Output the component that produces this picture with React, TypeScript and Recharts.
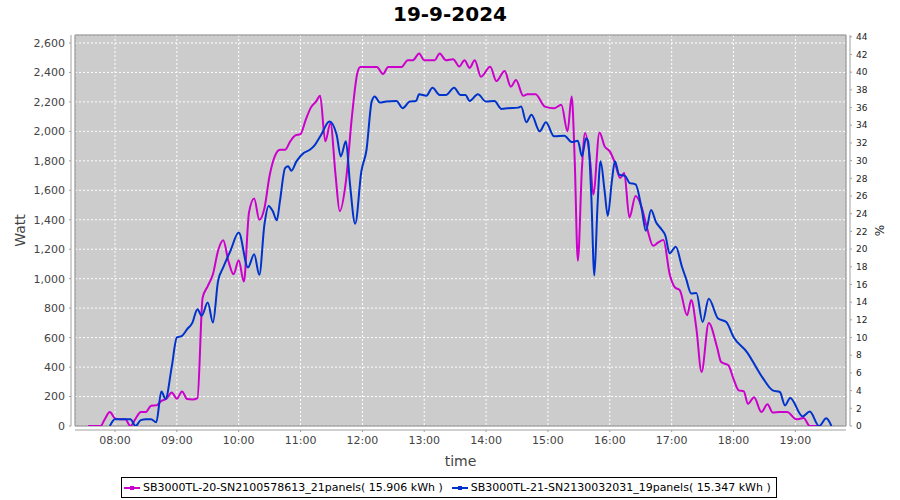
import React from "react";
import {
  LineChart,
  Line,
  XAxis,
  YAxis,
  CartesianGrid,
  ReferenceArea,
} from "recharts";

const FONT = "'DejaVu Sans', sans-serif";

const seriesNames = [
  "SB3000TL-20-SN2100578613_21panels( 15.906 kWh )",
  "SB3000TL-21-SN2130032031_19panels( 15.347 kWh )",
];
const seriesColors = ["#cc00cc", "#0033cc"];

// inverter 20, 21 panels (magenta)
const magentaTimes = [
  "07:34", "07:40", "07:46", "07:50", "07:55", "08:00", "08:05", "08:10", "08:15", "08:20",
  "08:25", "08:30", "08:35", "08:40", "08:45", "08:50", "08:55", "09:00", "09:05", "09:10",
  "09:15", "09:20", "09:25", "09:30", "09:35", "09:40", "09:45", "09:50", "09:55", "10:00",
  "10:05", "10:10", "10:15", "10:20", "10:25", "10:30", "10:35", "10:40", "10:45", "10:50",
  "10:55", "11:00", "11:05", "11:10", "11:15", "11:19", "11:24", "11:29", "11:34", "11:38",
  "11:44", "11:50", "11:55", "11:58", "12:05", "12:14", "12:20", "12:25", "12:38", "12:44",
  "12:49", "12:55", "13:00", "13:10", "13:15", "13:21", "13:28", "13:34", "13:39", "13:44",
  "13:49", "13:55", "14:04", "14:10", "14:18", "14:24", "14:29", "14:36", "14:40", "14:48",
  "14:57", "15:06", "15:13", "15:19", "15:23", "15:26", "15:29", "15:33", "15:36", "15:41",
  "15:44", "15:50", "15:55", "16:00", "16:05", "16:10", "16:14", "16:19", "16:25", "16:31",
  "16:36", "16:42", "16:47", "16:52", "16:58", "17:03", "17:08", "17:15", "17:19", "17:24",
  "17:29", "17:36", "17:44", "17:48", "17:55", "18:00", "18:05", "18:10", "18:14", "18:20",
  "18:27", "18:33", "18:38", "18:45", "18:52", "19:01", "19:08", "19:14", "19:25",
];
const magentaWatts = [
  0, 0, 0, 45, 95, 52, 45, 45, 0, 50,
  95, 95, 138, 140, 170, 185, 228, 185, 235, 183,
  180, 190, 870, 950, 1030, 1190, 1260, 1120, 1030, 1125,
  980, 1450, 1545, 1400, 1480, 1700, 1830, 1875, 1875, 1932,
  1972, 1981, 2078, 2161, 2202, 2242, 1932, 2055, 1700, 1459,
  1661, 2112, 2393, 2437, 2437, 2437, 2389, 2437, 2437, 2483,
  2483, 2528, 2483, 2483, 2528, 2483, 2490, 2440, 2483, 2431,
  2483, 2371, 2438, 2341, 2409, 2303, 2348, 2242, 2251, 2251,
  2168, 2157, 2180, 2000, 2236, 1797, 1122, 1752, 1988, 1797,
  1572, 1993, 1898, 1864, 1786, 1684, 1718, 1416, 1561, 1482,
  1347, 1223, 1246, 1263, 1034, 943, 921, 751, 855, 661,
  367, 699, 536, 434, 412, 320, 242, 235, 150, 195,
  95, 147, 91, 95, 95, 45, 54, 0, 0,
];

// inverter 21, 19 panels (blue)
const blueTimes = [
  "07:55", "08:00", "08:05", "08:10", "08:15", "08:20", "08:25", "08:30", "08:35", "08:40",
  "08:45", "08:49", "08:55", "09:00", "09:05", "09:10", "09:15", "09:20", "09:24", "09:30",
  "09:35", "09:40", "09:45", "09:52", "10:00", "10:09", "10:15", "10:20", "10:25", "10:29",
  "10:33", "10:37", "10:40", "10:45", "10:48", "10:51", "10:56", "11:03", "11:09", "11:14",
  "11:20", "11:28", "11:35", "11:39", "11:44", "11:48", "11:53", "11:59", "12:04", "12:09",
  "12:12", "12:17", "12:23", "12:33", "12:39", "12:46", "12:52", "12:55", "13:02", "13:08",
  "13:15", "13:21", "13:29", "13:35", "13:40", "13:44", "13:52", "14:00", "14:08", "14:15",
  "14:21", "14:31", "14:34", "14:39", "14:44", "14:52", "14:58", "15:06", "15:16", "15:23",
  "15:29", "15:33", "15:37", "15:39", "15:42", "15:45", "15:48", "15:51", "15:55", "15:58",
  "16:02", "16:05", "16:09", "16:15", "16:19", "16:25", "16:31", "16:35", "16:40", "16:45",
  "16:50", "16:54", "16:58", "17:04", "17:10", "17:14", "17:19", "17:24", "17:30", "17:36",
  "17:45", "17:53", "18:00", "18:13", "18:28", "18:38", "18:45", "18:50", "18:55", "19:07",
  "19:14", "19:23", "19:30", "19:35",
];
const blueWatts = [
  0, 45, 45, 45, 45, 0, 40, 45, 45, 25,
  235, 183, 400, 601, 612, 657, 700, 793, 748, 838,
  703, 985, 1076, 1189, 1313, 1076, 1166, 1026, 1370, 1494,
  1459, 1396, 1526, 1751, 1763, 1733, 1796, 1853, 1875, 1909,
  1977, 2067, 1977, 1830, 1932, 1639, 1373, 1729, 1875, 2202,
  2236, 2195, 2202, 2206, 2157, 2202, 2206, 2251, 2242, 2296,
  2247, 2247, 2296, 2247, 2247, 2206, 2251, 2202, 2206, 2152,
  2157, 2161, 2168, 2062, 2112, 2000, 2062, 1966, 1970, 1927,
  1936, 1831, 1954, 1932, 1572, 1021, 1482, 1797, 1594, 1426,
  1662, 1797, 1707, 1696, 1651, 1640, 1471, 1325, 1466, 1381,
  1336, 1290, 1172, 1217, 1081, 1000, 900, 903, 706, 864,
  729, 706, 604, 502, 330, 242, 231, 140, 190, 65,
  98, 0, 52, 0,
];

const hourTicks = [8, 9, 10, 11, 12, 13, 14, 15, 16, 17, 18, 19];
const wattTicks = [0, 200, 400, 600, 800, 1000, 1200, 1400, 1600, 1800, 2000, 2200, 2400, 2600];
const pctTicks = [0, 2, 4, 6, 8, 10, 12, 14, 16, 18, 20, 22, 24, 26, 28, 30, 32, 34, 36, 38, 40, 42, 44];

const X_DOMAIN: [number, number] = [7.3533, 19.819];
const W_DOMAIN: [number, number] = [0, 2654];
const PCT_DOMAIN: [number, number] = [0, 44.2];

function toHours(s: string): number {
  const [h, m] = s.split(":").map(Number);
  return h + m / 60;
}

function build(times: string[], watts: number[]) {
  return times.map((t, i) => ({ t: toHours(t), w: watts[i] }));
}

const magentaData = build(magentaTimes, magentaWatts);
const blueData = build(blueTimes, blueWatts);

const AXIS = "#a0a0a0";

function LegendIcon({ color }: { color: string }) {
  return (
    <svg width={16} height={8} style={{ marginRight: 3 }}>
      <line x1={0} y1={4} x2={16} y2={4} stroke={color} strokeWidth={2} />
      <rect x={6} y={2} width={4} height={4} fill={color} />
    </svg>
  );
}

export default function App() {
  return (
    <div
      style={{
        position: "absolute",
        left: 0,
        top: 0,
        width: 900,
        height: 500,
        background: "#fff",
        fontFamily: FONT,
      }}
    >
      <div
        style={{
          position: "absolute",
          top: 2,
          left: 0,
          width: 900,
          textAlign: "center",
          fontSize: 20,
          fontWeight: "bold",
          color: "#000",
        }}
      >
        19-9-2024
      </div>
      <LineChart
        width={900}
        height={500}
        margin={{ top: 35, right: 0, bottom: 34, left: 0 }}
      >
        <CartesianGrid
          yAxisId="left"
          stroke="#ffffff"
          strokeDasharray="2 2"
          fill="#cccccc"
          fillOpacity={1}
        />
        <XAxis
          dataKey="t"
          type="number"
          domain={X_DOMAIN}
          ticks={hourTicks}
          allowDataOverflow
          tickFormatter={(h: number) => `${String(h).padStart(2, "0")}:00`}
          height={40}
          tickSize={2}
          tickMargin={8}
          axisLine={{ stroke: AXIS, transform: "translate(0 4)" }}
          tickLine={{ stroke: AXIS, transform: "translate(0 4)" }}
          tick={{ fill: "#444", fontSize: 11, fontFamily: FONT }}
          label={{
            value: "time",
            position: "insideBottom",
            offset: 0,
            fill: "#444",
            fontSize: 14,
            fontFamily: FONT,
          }}
        />
        <YAxis
          yAxisId="left"
          width={75}
          domain={W_DOMAIN}
          ticks={wattTicks}
          allowDataOverflow
          tickFormatter={(v: number) => v.toLocaleString("en-US")}
          tickSize={2}
          tickMargin={8}
          axisLine={{ stroke: AXIS, transform: "translate(-4 0)" }}
          tickLine={{ stroke: AXIS, transform: "translate(-4 0)" }}
          tick={{ fill: "#444", fontSize: 11, fontFamily: FONT }}
          label={{
            value: "Watt",
            angle: -90,
            position: "insideLeft",
            offset: 20,
            fill: "#444",
            fontSize: 14,
            fontFamily: FONT,
            style: { textAnchor: "middle" },
          }}
        />
        <YAxis
          yAxisId="right"
          orientation="right"
          width={54}
          domain={PCT_DOMAIN}
          ticks={pctTicks}
          allowDataOverflow
          tickSize={2}
          tickMargin={8}
          axisLine={{ stroke: AXIS, transform: "translate(4 0)" }}
          tickLine={{ stroke: AXIS, transform: "translate(4 0)" }}
          tick={{ fill: "#222", fontSize: 9, fontFamily: FONT }}
          label={{
            value: "%",
            angle: -90,
            position: "insideRight",
            offset: 20,
            fill: "#222",
            fontSize: 12,
            fontFamily: FONT,
            style: { textAnchor: "middle" },
          }}
        />
        <Line
          yAxisId="left"
          data={magentaData}
          dataKey="w"
          name={seriesNames[0]}
          type="monotone"
          stroke={seriesColors[0]}
          strokeWidth={2}
          dot={false}
          isAnimationActive={false}
        />
        <Line
          yAxisId="left"
          data={blueData}
          dataKey="w"
          name={seriesNames[1]}
          type="monotone"
          stroke={seriesColors[1]}
          strokeWidth={2}
          dot={false}
          isAnimationActive={false}
        />
        <ReferenceArea
          yAxisId="left"
          x1={X_DOMAIN[0]}
          x2={X_DOMAIN[1]}
          y1={W_DOMAIN[0]}
          y2={W_DOMAIN[1]}
          fill="none"
          stroke="#808080"
          strokeWidth={1}
        />
      </LineChart>
      <div
        style={{
          position: "absolute",
          left: 121,
          top: 477,
          height: 21,
          boxSizing: "border-box",
          border: "1px solid #000",
          display: "flex",
          alignItems: "center",
          padding: "0 5px 0 2px",
          fontSize: 11,
          color: "#000",
          whiteSpace: "nowrap",
        }}
      >
        {seriesNames.map((name, i) => (
          <span
            key={name}
            style={{ display: "flex", alignItems: "center", marginRight: i === 0 ? 9 : 0 }}
          >
            <LegendIcon color={seriesColors[i]} />
            {name}
          </span>
        ))}
      </div>
    </div>
  );
}
